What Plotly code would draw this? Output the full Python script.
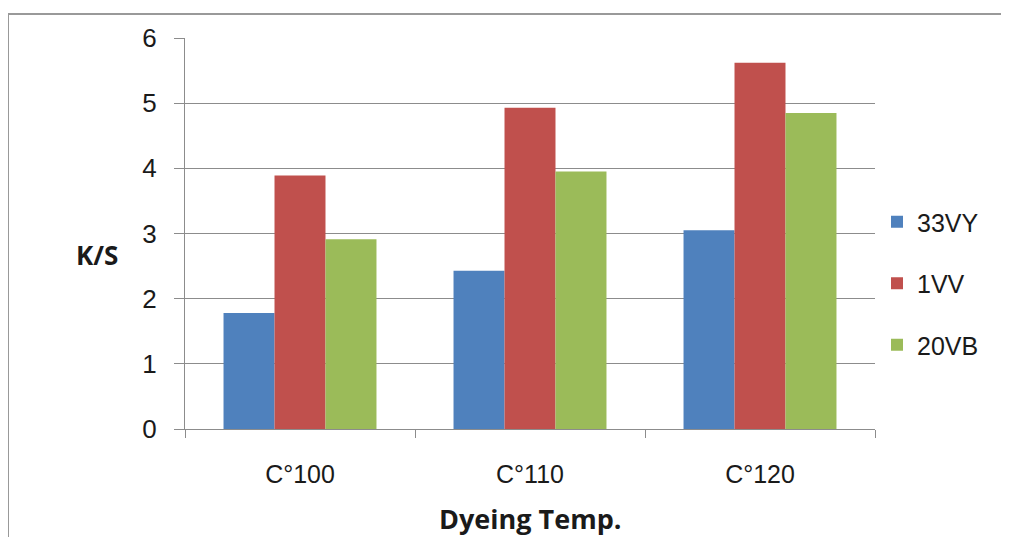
import plotly.graph_objects as go

categories = ["C°100", "C°110", "C°120"]
series_names = ["33VY", "1VV", "20VB"]
vals_33vy = [1.78, 2.43, 3.05]
vals_1vv = [3.89, 4.93, 5.62]
vals_20vb = [2.91, 3.95, 4.85]
colors = ["#4F81BD", "#C0504D", "#9BBB59"]
y_ticks = [0, 1, 2, 3, 4, 5, 6]

fig = go.Figure()
for i, (name, vals) in enumerate(zip(series_names, [vals_33vy, vals_1vv, vals_20vb])):
    fig.add_trace(go.Bar(x=categories, y=vals, name=name, marker_color=colors[i],
                         marker_line_width=0, legendgroup=name))

# page renders the figure offset by 8px; work in figure coords
OFF = 8
W, H = 1009, 537
L, T = 185 - OFF, 38 - OFF
Rx, By = 875 - OFF, 429 - OFF
R, B = W - Rx, H - By
pw, ph = Rx - L, By - T

def px(x):
    return (x - OFF - L) / pw

def py(y):
    return (By - (y - OFF)) / ph

fig.update_layout(
    width=W, height=H,
    margin=dict(l=L, r=R, t=T, b=B),
    paper_bgcolor="white", plot_bgcolor="white",
    barmode="group", bargap=0.335, bargroupgap=0,
    font=dict(family="Liberation Sans, Arial, sans-serif", size=26, color="#1a1a1a"),
    legend=dict(x=px(877), y=py(199), xanchor="left", yanchor="top",
                font=dict(size=25), tracegroupgap=26, itemwidth=30,
                bgcolor="rgba(0,0,0,0)"),
    showlegend=True,
)
fig.update_yaxes(range=[0, 6], tickvals=y_ticks, showgrid=True, gridcolor="#8c8c8c",
                 gridwidth=1, showline=True, linecolor="#8c8c8c", linewidth=1,
                 ticks="outside", ticklen=10, tickcolor="#8c8c8c", zeroline=False,
                 ticklabelstandoff=12, tickfont=dict(size=26))
fig.update_xaxes(showline=True, linecolor="#8c8c8c", linewidth=1, ticks="outside",
                 ticklen=8, tickcolor="#8c8c8c", tickson="boundaries",
                 ticklabelstandoff=23, tickfont=dict(size=25))

fig.add_annotation(text="<b>Dyeing Temp.</b>", xref="paper", yref="paper",
                   x=0.5, y=py(518), showarrow=False, yanchor="middle",
                   font=dict(size=27, family="Open Sans, Liberation Sans, Arial"))
fig.add_annotation(text="<b>K/S</b>", xref="paper", yref="paper",
                   x=px(74), y=py(255), showarrow=False,
                   font=dict(size=26, family="Open Sans, Liberation Sans, Arial"))
fig.add_shape(type="rect", xref="paper", yref="paper",
              x0=px(8), x1=px(1030), y0=py(560), y1=py(14),
              line=dict(color="#999999", width=2), fillcolor="rgba(0,0,0,0)", layer="below")

fig.write_html("out.html")
